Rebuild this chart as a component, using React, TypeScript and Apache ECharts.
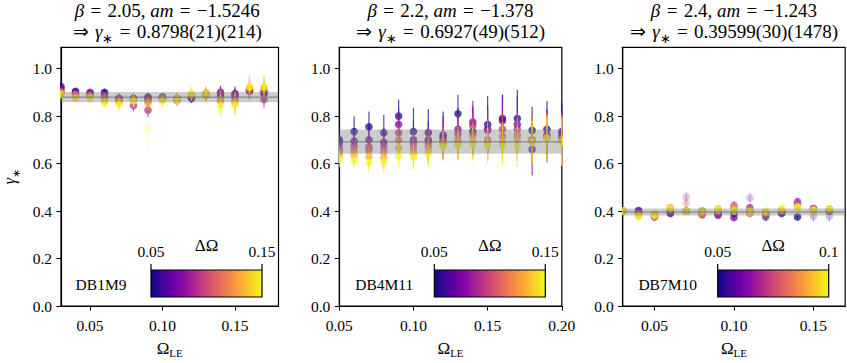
import React, { useEffect, useRef } from 'react';
import * as echarts from 'echarts';

// ---------- data ----------
const panelNames = ['DB1M9', 'DB4M11', 'DB7M10'];
const betaLabels = ['2.05', '2.2', '2.4'];
const amLabels = ['\u22121.5246', '\u22121.378', '\u22121.243'];
const gammaStarLabels = ['0.8798(21)(214)', '0.6927(49)(512)', '0.39599(30)(1478)'];
const gammaStar = [0.8798, 0.6927, 0.39599];
const gammaStatErr = [0.0021, 0.0049, 0.0003];
const gammaSysErr = [0.0214, 0.0512, 0.01478];

const xRanges = [[0.03, 0.18], [0.05, 0.2], [0.03, 0.17]];
const xTicks = [[0.05, 0.1, 0.15], [0.05, 0.1, 0.15, 0.2], [0.05, 0.1, 0.15]];
const yTicks = [0, 0.2, 0.4, 0.6, 0.8, 1.0];
const yMax = 1.09;

const cbRanges = [[0.05, 0.15], [0.05, 0.15], [0.05, 0.1]];
const cbTickLabels = [['0.05', '0.15'], ['0.05', '0.15'], ['0.05', '0.1']];

// Panel 1: DB1M9  (rows: Omega_LE, columns: DeltaOmega)
const omegaLE1 = [0.03, 0.04, 0.05, 0.06, 0.07, 0.08, 0.09, 0.1, 0.11, 0.12, 0.13, 0.14, 0.15, 0.16, 0.17];
const deltaOmega1 = [0.05, 0.07, 0.09, 0.11, 0.13, 0.15];
const gamma1 = [
  [0.925, 0.915, 0.905, 0.9, 0.895, 0.89],
  [0.905, 0.9, 0.895, 0.89, 0.88, 0.875],
  [0.895, 0.9, 0.895, 0.885, 0.88, 0.875],
  [0.9, 0.895, 0.885, 0.875, 0.865, 0.855],
  [0.875, 0.87, 0.865, 0.87, 0.86, 0.85],
  [0.875, 0.87, 0.845, 0.87, 0.87, 0.865],
  [0.88, 0.87, 0.825, 0.865, 0.855, 0.745],
  [0.88, 0.875, 0.87, 0.875, 0.87, 0.865],
  [0.875, 0.87, 0.875, 0.87, 0.865, 0.875],
  [0.875, 0.88, 0.885, 0.89, 0.89, 0.895],
  [0.89, 0.89, 0.895, 0.89, 0.895, 0.89],
  [0.885, 0.9, 0.895, 0.865, 0.87, 0.845],
  [0.89, 0.895, 0.88, 0.865, 0.855, 0.85],
  [0.905, 0.91, 0.91, 0.915, 0.92, 0.925],
  [0.895, 0.9, 0.87, 0.91, 0.92, 0.925],
];
const err1 = [
  [0.012, 0.012, 0.012, 0.013, 0.013, 0.014],
  [0.012, 0.012, 0.013, 0.013, 0.014, 0.015],
  [0.012, 0.013, 0.013, 0.014, 0.015, 0.015],
  [0.015, 0.015, 0.016, 0.017, 0.018, 0.02],
  [0.02, 0.02, 0.022, 0.025, 0.03, 0.03],
  [0.02, 0.022, 0.025, 0.025, 0.028, 0.03],
  [0.018, 0.02, 0.03, 0.025, 0.028, 0.095],
  [0.018, 0.018, 0.018, 0.02, 0.022, 0.022],
  [0.02, 0.02, 0.02, 0.022, 0.022, 0.025],
  [0.02, 0.02, 0.022, 0.022, 0.025, 0.03],
  [0.022, 0.022, 0.025, 0.025, 0.03, 0.035],
  [0.025, 0.028, 0.03, 0.035, 0.04, 0.045],
  [0.025, 0.03, 0.035, 0.04, 0.045, 0.05],
  [0.03, 0.035, 0.04, 0.04, 0.045, 0.05],
  [0.03, 0.035, 0.035, 0.04, 0.045, 0.05],
];

// Panel 2: DB4M11
const omegaLE2 = [0.05, 0.06, 0.07, 0.08, 0.09, 0.1, 0.11, 0.12, 0.13, 0.14, 0.15, 0.16, 0.17, 0.18, 0.19, 0.2];
const deltaOmega2 = [0.05, 0.07, 0.09, 0.11, 0.13, 0.15];
const gamma2 = [
  [0.7, 0.685, 0.665, 0.65, 0.635, 0.62],
  [0.735, 0.695, 0.675, 0.655, 0.635, 0.615],
  [0.755, 0.7, 0.67, 0.655, 0.63, 0.605],
  [0.73, 0.69, 0.67, 0.65, 0.625, 0.605],
  [0.8, 0.765, 0.73, 0.7, 0.665, 0.633],
  [0.735, 0.7, 0.685, 0.665, 0.645, 0.628],
  [0.73, 0.7, 0.69, 0.673, 0.655, 0.64],
  [0.72, 0.71, 0.7, 0.69, 0.68, 0.67],
  [0.81, 0.745, 0.725, 0.7, 0.685, 0.675],
  [0.735, 0.775, 0.76, 0.72, 0.695, 0.68],
  [0.765, 0.745, 0.74, 0.7, 0.69, 0.675],
  [0.79, 0.78, 0.745, 0.715, 0.69, 0.675],
  [0.79, 0.765, 0.745, 0.72, 0.7, 0.67],
  [0.74, 0.66, 0.7, 0.695, 0.7, 0.69],
  [0.745, 0.72, 0.715, 0.71, 0.71, 0.705],
  [0.735, 0.72, 0.71, 0.7, 0.7, 0.69],
];
const err2 = [
  [0.035, 0.035, 0.035, 0.035, 0.035, 0.035],
  [0.065, 0.05, 0.045, 0.04, 0.04, 0.04],
  [0.065, 0.055, 0.05, 0.045, 0.045, 0.045],
  [0.075, 0.06, 0.05, 0.05, 0.045, 0.045],
  [0.07, 0.07, 0.065, 0.06, 0.055, 0.05],
  [0.1, 0.08, 0.07, 0.06, 0.055, 0.055],
  [0.1, 0.08, 0.07, 0.065, 0.06, 0.055],
  [0.1, 0.09, 0.08, 0.07, 0.065, 0.06],
  [0.08, 0.09, 0.085, 0.08, 0.07, 0.065],
  [0.1, 0.09, 0.085, 0.08, 0.075, 0.07],
  [0.12, 0.1, 0.09, 0.085, 0.08, 0.075],
  [0.1, 0.11, 0.1, 0.09, 0.085, 0.08],
  [0.12, 0.12, 0.1, 0.09, 0.09, 0.085],
  [0.1, 0.11, 0.1, 0.1, 0.095, 0.09],
  [0.12, 0.11, 0.11, 0.1, 0.1, 0.095],
  [0.12, 0.12, 0.11, 0.11, 0.1, 0.1],
];

// Panel 3: DB7M10
const omegaLE3 = [0.03, 0.04, 0.05, 0.06, 0.07, 0.08, 0.09, 0.1, 0.11, 0.12, 0.13, 0.14, 0.15, 0.16];
const deltaOmega3 = [0.05, 0.06, 0.07, 0.08, 0.09, 0.1];
const gamma3 = [
  [0.4, 0.4, 0.4, 0.4, 0.4, 0.4],
  [0.402, 0.398, 0.392, 0.388, 0.382, 0.378],
  [0.385, 0.38, 0.375, 0.375, 0.38, 0.385],
  [0.39, 0.395, 0.4, 0.41, 0.415, 0.41],
  [0.4, 0.46, 0.4, 0.433, 0.4, 0.4],
  [0.4, 0.395, 0.385, 0.385, 0.395, 0.4],
  [0.39, 0.383, 0.39, 0.4, 0.41, 0.405],
  [0.39, 0.373, 0.425, 0.415, 0.41, 0.4],
  [0.4, 0.455, 0.415, 0.39, 0.395, 0.4],
  [0.375, 0.39, 0.385, 0.39, 0.395, 0.4],
  [0.39, 0.395, 0.4, 0.4, 0.405, 0.41],
  [0.375, 0.44, 0.43, 0.425, 0.42, 0.415],
  [0.378, 0.41, 0.41, 0.405, 0.4, 0.405],
  [0.378, 0.4, 0.405, 0.41, 0.405, 0.41],
];
const err3 = [
  [0.004, 0.004, 0.004, 0.004, 0.004, 0.004],
  [0.004, 0.004, 0.004, 0.004, 0.004, 0.004],
  [0.005, 0.005, 0.005, 0.005, 0.005, 0.005],
  [0.006, 0.006, 0.008, 0.012, 0.01, 0.006],
  [0.005, 0.024, 0.006, 0.02, 0.006, 0.005],
  [0.005, 0.005, 0.006, 0.006, 0.005, 0.005],
  [0.005, 0.006, 0.006, 0.007, 0.006, 0.006],
  [0.006, 0.006, 0.016, 0.01, 0.007, 0.006],
  [0.006, 0.022, 0.012, 0.007, 0.006, 0.006],
  [0.016, 0.007, 0.007, 0.007, 0.006, 0.006],
  [0.006, 0.006, 0.007, 0.007, 0.006, 0.006],
  [0.006, 0.016, 0.012, 0.01, 0.008, 0.007],
  [0.024, 0.008, 0.008, 0.007, 0.007, 0.007],
  [0.024, 0.008, 0.008, 0.007, 0.007, 0.007],
];

const omegaLE = [omegaLE1, omegaLE2, omegaLE3];
const deltaOmega = [deltaOmega1, deltaOmega2, deltaOmega3];
const gammas = [gamma1, gamma2, gamma3];
const errs = [err1, err2, err3];

// ---------- styling ----------
const FONT = 'Liberation Serif';
const plasma = ['#0d0887', '#41049d', '#6a00a8', '#8f0da4', '#b12a90', '#cc4778', '#e16462', '#f2844b', '#fca636', '#fcce25', '#f0f921'];
const gridLefts = [56, 339.3, 622.7];
const gridWidth = 222.5;
const gridTop = 47.3;
const gridHeight = 266;
const SP = '\u2004';

function buildPoints(p: number) {
  const out: number[][] = [];
  deltaOmega[p].forEach((d, j) => {
    omegaLE[p].forEach((x, i) => {
      out.push([x, gammas[p][i][j], errs[p][i][j], d]);
    });
  });
  return out;
}

function medianErr(p: number) {
  const all: number[] = [];
  errs[p].forEach((r) => r.forEach((e) => all.push(e)));
  all.sort((a, b) => a - b);
  return all[Math.floor(all.length / 2)];
}

export default function App() {
  const ref = useRef<HTMLDivElement>(null);
  useEffect(() => {
    if (!ref.current) return;
    const chart = echarts.init(ref.current, null, { renderer: 'svg' });
    const grids: any[] = [];
    const xAxes: any[] = [];
    const yAxes: any[] = [];
    const series: any[] = [];
    const titles: any[] = [];
    const visualMaps: any[] = [];
    const graphics: any[] = [];
    const axisLabelStyle = { color: '#000', fontSize: 15.5, fontFamily: FONT };

    for (let p = 0; p < 3; p++) {
      const left = gridLefts[p];
      grids.push({ left, top: gridTop, width: gridWidth, height: gridHeight, show: true, borderColor: '#000', borderWidth: 1.2, backgroundColor: 'transparent' });
      xAxes.push({
        gridIndex: p, type: 'value', min: xRanges[p][0], max: xRanges[p][1],
        axisLine: { show: true, onZero: false, lineStyle: { color: '#000', width: 1.2 } },
        axisTick: { show: true, length: 4.5, lineStyle: { color: '#000', width: 1 }, customValues: xTicks[p] },
        axisLabel: { ...axisLabelStyle, margin: 11, customValues: xTicks[p], formatter: (v: number) => v.toFixed(2) },
        splitLine: { show: false },
        name: '\u03A9{sub|LE}', nameLocation: 'middle', nameGap: 31,
        nameTextStyle: {
          color: '#000', fontSize: 17, fontFamily: FONT, lineHeight: 17, verticalAlign: 'top',
          rich: { sub: { fontSize: 11, fontFamily: FONT, color: '#000', lineHeight: 20, verticalAlign: 'bottom' } },
        },
      });
      yAxes.push({
        gridIndex: p, type: 'value', min: 0, max: yMax,
        axisLine: { show: true, onZero: false, lineStyle: { color: '#000', width: 1.2 } },
        axisTick: { show: true, length: 4.5, lineStyle: { color: '#000', width: 1 }, customValues: yTicks },
        axisLabel: { ...axisLabelStyle, margin: 9, customValues: yTicks, formatter: (v: number) => v.toFixed(1) },
        splitLine: { show: false },
        ...(p === 0 ? {
          name: '{g|\u03B3}{s|\u2217}', nameLocation: 'middle', nameGap: 40,
          nameTextStyle: {
            color: '#000', fontSize: 16, fontFamily: FONT,
            rich: {
              g: { fontStyle: 'italic', fontSize: 16, fontFamily: FONT, color: '#000', lineHeight: 16, verticalAlign: 'top' },
              s: { fontSize: 11, fontFamily: FONT, color: '#000', lineHeight: 20, verticalAlign: 'bottom' },
            },
          },
        } : {}),
      });

      const med = medianErr(p);
      series.push({
        type: 'custom', xAxisIndex: p, yAxisIndex: p, clip: true, z: 2,
        dimensions: ['x', 'y', 'err', 'd'], encode: { x: 0, y: 1 },
        data: buildPoints(p),
        renderItem: (params: any, api: any) => {
          const x = api.value(0), y = api.value(1), e = api.value(2);
          const c = api.coord([x, y]);
          const t = api.coord([x, y + e]);
          const b = api.coord([x, y - e]);
          const color = api.visual('color');
          const r = e / med;
          const op = r <= 2 ? 0.72 : Math.max(0.22, 0.72 - (r - 2) * 0.3);
          return {
            type: 'group',
            children: [
              { type: 'line', shape: { x1: c[0], y1: t[1], x2: c[0], y2: b[1] }, style: { stroke: color, lineWidth: 1.2, opacity: op } },
              { type: 'circle', shape: { cx: c[0], cy: c[1], r: 3.8 }, style: { fill: color, opacity: op } },
            ],
          };
        },
      });
      const half = Math.sqrt(gammaStatErr[p] ** 2 + gammaSysErr[p] ** 2);
      series.push({
        type: 'custom', xAxisIndex: p, yAxisIndex: p, clip: true, z: 5, silent: true,
        encode: { x: 0, y: 1 },
        data: [[(xRanges[p][0] + xRanges[p][1]) / 2, gammaStar[p], half]],
        renderItem: (params: any, api: any) => {
          const cs = params.coordSys;
          const x = api.value(0), g = api.value(1), h = api.value(2);
          const yt = api.coord([x, g + h])[1];
          const yb = api.coord([x, g - h])[1];
          const yc = api.coord([x, g])[1];
          return {
            type: 'group',
            children: [
              { type: 'rect', shape: { x: cs.x, y: yt, width: cs.width, height: yb - yt }, style: { fill: 'rgba(128,128,128,0.4)' } },
              { type: 'line', shape: { x1: cs.x, y1: yc, x2: cs.x + cs.width, y2: yc }, style: { stroke: 'rgba(100,100,100,0.55)', lineWidth: 1.5 } },
            ],
          };
        },
      });
      visualMaps.push({
        type: 'continuous', show: false, seriesIndex: 2 * p, dimension: 3,
        min: cbRanges[p][0], max: cbRanges[p][1], inRange: { color: plasma },
      });
      titles.push({
        text: `{i|\u03B2}${SP}=${SP}${betaLabels[p]}, {i|am}${SP}=${SP}${amLabels[p]}\n\u21D2${SP}{i|\u03B3}{s|\u2217}${SP}=${SP}${gammaStarLabels[p]}`,
        left: left + gridWidth / 2, top: 0, textAlign: 'center', padding: 0,
        textStyle: {
          color: '#000', fontSize: 19, fontWeight: 'normal', fontFamily: FONT, lineHeight: 21,
          rich: {
            i: { fontStyle: 'italic', fontSize: 19, fontFamily: FONT, color: '#000', lineHeight: 21 },
            s: { fontSize: 13, fontFamily: FONT, color: '#000', lineHeight: 9, padding: [11, 0, 0, 0], verticalAlign: 'top' },
          },
        },
      });

      // colorbar
      const cbX = left + 95;
      const cbW = 111;
      const cbY = 270;
      const cbH = 27;
      const stops = plasma.map((c, i) => ({ offset: i / (plasma.length - 1), color: c }));
      graphics.push({
        type: 'rect', shape: { x: cbX, y: cbY, width: cbW, height: cbH },
        style: { fill: new echarts.graphic.LinearGradient(0, 0, 1, 0, stops), stroke: '#000', lineWidth: 1.2 }, z: 10,
      });
      [cbX, cbX + cbW].forEach((tx, k) => {
        graphics.push({ type: 'line', shape: { x1: tx, y1: cbY - 6, x2: tx, y2: cbY }, style: { stroke: '#000', lineWidth: 1.2 }, z: 10 });
        graphics.push({
          type: 'text', x: tx, y: 251, z: 10,
          style: { text: cbTickLabels[p][k], fill: '#000', fontSize: 15.5, fontFamily: FONT, textAlign: 'center', textVerticalAlign: 'middle' },
        });
      });
      graphics.push({
        type: 'text', x: cbX + cbW / 2, y: 245, z: 10,
        style: { text: '\u0394\u03A9', fill: '#000', fontSize: 17, fontFamily: FONT, textAlign: 'center', textVerticalAlign: 'middle' },
      });
      graphics.push({
        type: 'text', x: left + 45, y: 284, z: 10,
        style: { text: panelNames[p], fill: '#000', fontSize: 15.5, fontFamily: FONT, textAlign: 'center', textVerticalAlign: 'middle' },
      });
    }

    chart.setOption({
      animation: false,
      backgroundColor: '#fff',
      textStyle: { fontFamily: FONT },
      title: titles,
      grid: grids,
      xAxis: xAxes,
      yAxis: yAxes,
      visualMap: visualMaps,
      series,
      graphic: graphics,
    });
    return () => chart.dispose();
  }, []);
  return <div ref={ref} style={{ position: 'fixed', left: 0, top: 0, width: 847, height: 363 }} />;
}
